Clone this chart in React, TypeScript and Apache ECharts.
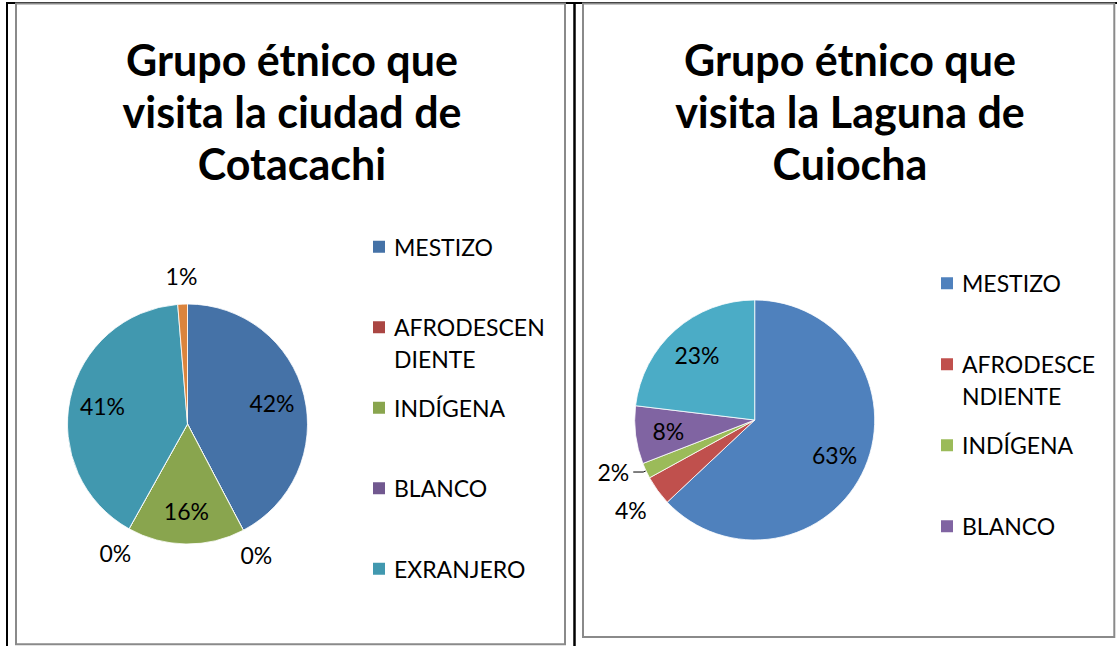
import React, { useEffect, useRef } from 'react';
import * as echarts from 'echarts';

// ---- data ----
const categories = ['MESTIZO', 'AFRODESCENDIENTE', 'INDÍGENA', 'BLANCO', 'EXRANJERO', 'OTROS'];
const cotacachiValues = [42.3, 0, 15.8, 0, 40.6, 1.3];
const cuicochaValues = [63.0, 4.0, 2.1, 7.8, 23.1];
const cotacachiLegend = ['MESTIZO', 'AFRODESCENDIENTE', 'INDÍGENA', 'BLANCO', 'EXRANJERO'];
const cuicochaLegend = ['MESTIZO', 'AFRODESCENDIENTE', 'INDÍGENA', 'BLANCO'];
const cotacachiTitle = ['Grupo étnico que', 'visita la ciudad de', 'Cotacachi'];
const cuicochaTitle = ['Grupo étnico que', 'visita la Laguna de', 'Cuiocha'];
const cotacachiWrapped: Record<string, string> = { AFRODESCENDIENTE: 'AFRODESCEN\nDIENTE' };
const cuicochaWrapped: Record<string, string> = { AFRODESCENDIENTE: 'AFRODESCE\nNDIENTE' };

// ---- styling ----
const FONT = 'Lato';
const cotacachiColors = ['#4572A7', '#AA4643', '#89A54E', '#71588F', '#4198AF', '#DB843D'];
const cuicochaColors = ['#4F81BD', '#C0504D', '#9BBB59', '#8064A2', '#4BACC6'];
const cotacachiPlacement = ['inner', 'outer', 'inner', 'outer', 'inner', 'outer'];
const cuicochaPlacement = ['inner', 'outer', 'leader', 'inner', 'inner'];

const pct = (p: any) => Math.round(p.percent) + '%';
const labelText = { color: '#000', fontFamily: FONT, fontSize: 23 };

type Cfg = {
  values: number[];
  colors: string[];
  placement: string[];
  center: [number, number];
  r: number;
  outer: [number, number];
  legend: string[];
  wrapped: Record<string, string>;
  legendLeft: number;
  legendTop: number;
  legendGap: number;
  title: string[];
  titleX: number;
  extraGraphic: any[];
};

function makeOption(c: Cfg) {
  const names = categories.slice(0, c.values.length);
  const mainData = c.values.map((v, i) => {
    const d: any = { name: names[i], value: v, itemStyle: { color: c.colors[i] } };
    if (c.placement[i] === 'leader') {
      d.label = { show: true, position: 'outside', formatter: pct, ...labelText, distanceToLabelLine: 4 };
      d.labelLine = { show: true, length: 3, length2: 10, lineStyle: { color: '#000', width: 1 } };
    }
    return d;
  });
  const overlay = (kind: string) =>
    c.values.map((v, i) => ({
      name: names[i],
      value: v,
      label: { show: c.placement[i] === kind },
    }));
  const overlayBase = {
    type: 'pie',
    center: c.center,
    startAngle: 90,
    clockwise: true,
    avoidLabelOverlap: false,
    silent: true,
    legendHoverLink: false,
    emphasis: { disabled: true },
    itemStyle: { color: 'transparent', borderWidth: 0 },
    labelLine: { show: false },
  };
  return {
    animation: false,
    backgroundColor: 'transparent',
    graphic: [
      ...c.extraGraphic,
      {
        type: 'text',
        x: c.titleX,
        y: 34,
        style: {
          text: c.title.join('\n'),
          align: 'center',
          verticalAlign: 'top',
          fontFamily: FONT,
          fontWeight: 'bold',
          fontSize: 43,
          lineHeight: 51.7,
          fill: '#000',
        },
      },
    ],
    legend: {
      orient: 'vertical',
      left: c.legendLeft,
      top: c.legendTop,
      padding: 0,
      itemGap: c.legendGap,
      itemWidth: 14,
      itemHeight: 14,
      icon: 'rect',
      selectedMode: false,
      data: c.legend,
      formatter: (n: string) => {
        const w = c.wrapped[n] || n;
        return w.indexOf('\n') >= 0 ? ' \n' + w : ' \n' + w + '\n ';
      },
      textStyle: { color: '#000', fontFamily: FONT, fontSize: 23, lineHeight: 32, padding: [0, 0, 0, 3] },
    },
    series: [
      {
        type: 'pie',
        center: c.center,
        radius: c.r,
        startAngle: 90,
        clockwise: true,
        avoidLabelOverlap: false,
        silent: true,
        emphasis: { disabled: true },
        itemStyle: { borderColor: '#ffffff', borderWidth: 0.8 },
        label: { show: false },
        labelLine: { show: false },
        data: mainData,
      },
      {
        ...overlayBase,
        radius: [48, c.r],
        label: { position: 'inside', formatter: pct, ...labelText },
        data: overlay('inner'),
      },
      {
        ...overlayBase,
        radius: c.outer,
        label: { position: 'inside', formatter: pct, ...labelText },
        data: overlay('outer'),
      },
    ],
  };
}

const frame = [
  { type: 'line', shape: { x1: 7, y1: 2, x2: 7, y2: 646 }, style: { stroke: '#000', lineWidth: 2 } },
  { type: 'line', shape: { x1: 6, y1: 3, x2: 1117, y2: 3 }, style: { stroke: '#000', lineWidth: 2 } },
  { type: 'line', shape: { x1: 574.5, y1: 2, x2: 574.5, y2: 646 }, style: { stroke: '#000', lineWidth: 2.5 } },
  { type: 'rect', shape: { x: 16, y: 3.5, width: 549, height: 640.8 }, style: { fill: 'none', stroke: '#8a8a8a', lineWidth: 2 } },
  { type: 'rect', shape: { x: 583, y: 3.5, width: 531.3, height: 633.5 }, style: { fill: 'none', stroke: '#8a8a8a', lineWidth: 2 } },
];

export default function App() {
  const leftRef = useRef<HTMLDivElement>(null);
  const rightRef = useRef<HTMLDivElement>(null);
  useEffect(() => {
    const a = echarts.init(leftRef.current!, undefined, { renderer: 'svg' });
    const b = echarts.init(rightRef.current!, undefined, { renderer: 'svg' });
    a.setOption(
      makeOption({
        values: cotacachiValues,
        colors: cotacachiColors,
        placement: cotacachiPlacement,
        center: [187.5, 424],
        r: 120,
        outer: [130, 160],
        legend: cotacachiLegend,
        wrapped: cotacachiWrapped,
        legendLeft: 371,
        legendTop: 198.7,
        legendGap: -15.5,
        title: cotacachiTitle,
        titleX: 292,
        extraGraphic: frame,
      }) as any
    );
    b.setOption(
      makeOption({
        values: cuicochaValues,
        colors: cuicochaColors,
        placement: cuicochaPlacement,
        center: [754.7, 420],
        r: 120,
        outer: [132, 168],
        legend: cuicochaLegend,
        wrapped: cuicochaWrapped,
        legendLeft: 939,
        legendTop: 235.3,
        legendGap: -15,
        title: cuicochaTitle,
        titleX: 850,
        extraGraphic: [],
      }) as any
    );
    return () => {
      a.dispose();
      b.dispose();
    };
  }, []);
  const full: React.CSSProperties = { position: 'absolute', left: 0, top: 0, width: 1117, height: 646 };
  return (
    <div style={{ position: 'fixed', left: 0, top: 0, width: 1117, height: 646, background: '#fff' }}>
      <div ref={leftRef} style={full} />
      <div ref={rightRef} style={full} />
    </div>
  );
}
